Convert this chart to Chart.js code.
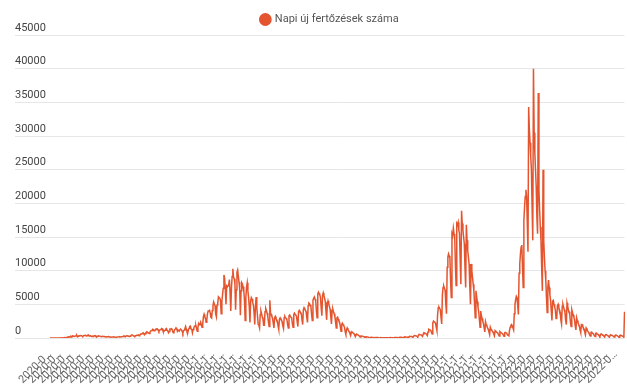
<!DOCTYPE html>
<html lang="hu">
<head>
<meta charset="utf-8">
<script src="https://cdn.jsdelivr.net/npm/chart.js@4/dist/chart.umd.min.js"></script>
<style>
  html, body { margin: 0; padding: 0; background: #fff; }
  #wrap { width: 627px; height: 385px; }
</style>
</head>
<body>
<div id="wrap"><canvas id="chart"></canvas></div>
<script>
const seriesLabel = 'Napi új fertőzések száma';
const startDate = '2020-02-26';
const lineColor = '#e4552f';

// daily values, 2020-02-26 .. 2020-12-31
const cases2020 = [
  1,0,2,0,0,0,0, 1,0,2,2,0,1,6, 7,12,20,11,19,38,18, 62,31,31,59,66,143,186,
  144,123,263,217,180,308,291, 249,267,293,312,384,193,304, 283,346,375,352,324,279,237,
  332,354,372,394,289,329,434, 459,312,310,356,242,226,269, 226,299,343,355,227,142,274,
  273,323,291,268,240,190,220, 230,213,210,183,196,154,160, 173,168,191,148,141,132,123,
  135,136,156,142,122,119,114, 133,140,172,218,165,170,186, 193,210,238,290,255,178,307,
  320,330,301,258,267,270,322, 462,460,423,300,312,258,345, 381,417,421,450,342,412,555,
  586,614,698,777,611,509,617, 777,889,767,811,737,663,857, 1030,1112,1119,1284,1254,1081,1151,
  1182,1356,1295,1345,1148,990,1179, 1215,1247,1415,1378,1054,927,1094, 1152,1330,1409,1145,1061,778,969,
  1309,1280,1405,1378,1040,777,955, 1233,1328,1504,1383,995,1189,1082, 1059,1274,1278,1185,987,712,1055,
  1184,1392,1713,1311,913,727,1186, 1432,1713,1767,1333,1259,757,1275, 1475,1767,1752,1834,1414,1011,1591,
  2158,1958,2027,2343,1976,1591,2070, 3130,3517,3186,2919,2321,2712,3617, 4016,4038,4123,3697,3071,2958,4074,
  4848,5343,5028,4785,3551,3142,4900, 5257,6115,5982,5943,5534,3600,5464, 6481,7385,9364,8851,7174,5000,7733,
  7591,7777,7947,8679,6640,4000,7487, 9134,10269,9049,8806,8162,4200,7169, 9800,10100,9200,8300,7300,3400,7000,
  8200,8000,7600,7000,5600,2600,6000, 7500,8200,7000,6000,4700,2300,5500, 6000,5800,5300,4900,3800,2000,4600,
  6100,4500,3300,2000,1900,1500,3500, 4000,3600
];

// daily values, 2021-01-01 .. 2021-12-31
const cases2021 = [
  3100,2800,1900,1900,3900,
  4400,4100,3700,3200,2400,1700,5600, 3800,3500,3200,2900,2200,1500,3000, 3200,2900,2700,2500,1800,1300,2800,
  3000,2800,2700,2400,1800,1400,3000, 3200,3000,2900,2700,2000,1500,3300, 3400,3200,3100,2900,2100,1600,3500,
  3700,3500,3400,3200,2400,1700,3900, 4100,3900,3800,3600,2700,2000,4200, 4500,4300,4100,3900,3000,2300,4800,
  5200,5100,4900,4700,3500,2600,5600, 5900,6100,5800,5500,4100,3000,6500, 6800,6600,6400,6000,4500,3300,6300,
  6700,6300,5900,5400,4000,2700,5000, 5500,5100,4700,4300,3200,2100,4000, 4300,3900,3600,3200,2400,1500,3000,
  3100,2800,2500,2300,1700,1000,2000, 2200,2000,1800,1600,1000,550,1200, 1500,1300,1100,950,650,380,800,
  900,800,720,630,400,250,500, 560,500,440,390,260,150,300, 306,275,237,215,155,72,155,
  180,165,140,130,85,47,92, 108,98,92,84,53,29,63, 74,70,61,58,38,20,48,
  58,55,49,44,31,19,43, 55,51,48,45,30,21,47, 63,57,55,50,35,24,59,
  77,74,72,68,48,35,83, 109,103,101,95,70,52,121, 163,156,150,148,104,76,178,
  245,236,225,213,156,112,265, 362,345,330,314,229,163,398, 532,510,483,461,335,238,583,
  773,746,708,674,487,347,875, 1300,1250,1200,1150,850,600,2200, 2500,2400,2300,2200,1600,1100,3500,
  4500,4600,4400,4200,3100,2100,6400, 7500,7700,7400,7100,5100,3600,10500, 12000,12500,12200,11800,8500,6000,15500,
  15200,16300,15500,15000,11000,7800,17000, 16800,17200,16000,15500,11500,8000,18900, 17000,16000,15000,14000,10500,7500,16800,
  14500,13000,12000,11000,7800,5000,11000, 10000,9000,8000,7000,5000,3000,7000, 6200,5400,4600,3900,2800,1600,4000,
  3300,2900,2500,2100,1500,900,2400, 2000,1750,1500,1300,900,500,1600, 1300,1150,1000,900,600,350,1100,
  1000,900,800,700,500,280,950, 850,780,700,620,440,250,800, 850,780,700,450,380,320,1100,
  1600,1900,2000
];

// daily values, 2022-01-01 .. 2022-06-14
const cases2022 = [
  1800,1500,1200,3600,
  5000,5700,6200,6000,4800,3500,9600, 11000,12500,13500,13800,10500,7500,17500, 19500,21000,22000,21000,17000,12800,34300,
  31000,29000,27000,25000,19500,14500,40000, 30500,27500,25000,22500,18000,15500,36400, 22000,19000,16500,14500,10500,7000,25000,
  14500,12000,10000,8600,6000,3800,7600, 8600,7500,6400,5600,4000,2600,5500, 5600,5000,4600,4100,2900,3000,4800,
  5000,4500,4200,3800,2700,2100,4700, 5000,4600,4200,3800,2600,2000,5200, 4700,4200,3900,3500,2400,1700,4200,
  3800,3400,3100,2700,1800,1200,3000, 2600,2300,2000,1800,1200,800,2000, 2000,1700,1500,1300,850,560,1500,
  1352,1065,897,740,470,285,850, 880,750,650,520,330,210,690, 720,620,560,470,300,190,560,
  600,510,470,400,250,160,470, 520,450,400,340,215,140,420, 470,420,370,320,200,130,390,
  440,400,350,300,190,120,360, 420,380,340,290,180,110,3900
];

const yTicks = [0, 5000, 10000, 15000, 20000, 25000, 30000, 35000, 40000, 45000];
const tickEvery = 14;

const values = cases2020.concat(cases2021, cases2022);
const days = [];
const d0 = new Date(startDate + 'T00:00:00Z');
for (let i = 0; i < values.length; i++) {
  days.push(new Date(d0.getTime() + i * 86400000).toISOString().slice(0, 10));
}

function shortLabel(s) {
  return s.slice(0, 6) + '…';
}

// nudge the legend a little to the right, like the original
const legendShift = {
  id: 'legendShift',
  afterLayout(chart) {
    chart.legend.left += 10;
    chart.legend.right += 10;
  }
};

const ctx = document.getElementById('chart').getContext('2d');
new Chart(ctx, {
  type: 'line',
  data: {
    labels: days,
    datasets: [
      {
        label: seriesLabel,
        data: values,
        borderColor: lineColor,
        backgroundColor: lineColor,
        borderWidth: 1.5,
        pointRadius: 0,
        tension: 0,
        fill: false
      }
    ]
  },
  options: {
    responsive: true,
    maintainAspectRatio: false,
    animation: false,
    layout: { padding: { left: 15, right: 2, top: 4, bottom: 0 } },
    plugins: {
      legend: {
        position: 'top',
        labels: {
          usePointStyle: true,
          pointStyle: 'circle',
          boxWidth: 8,
          boxHeight: 8,
          color: '#555',
          padding: 10,
          font: { family: 'Roboto', size: 11 }
        }
      },
      tooltip: { enabled: false }
    },
    scales: {
      x: {
        grid: { display: false },
        border: { display: false },
        ticks: {
          autoSkip: false,
          minRotation: 45,
          maxRotation: 45,
          padding: 2,
          color: '#666',
          font: { family: 'Roboto', size: 11 },
          callback: (val, i) => (i % tickEvery === 0 ? shortLabel(days[i]) : null)
        },
        afterFit: (s) => { s.height = 47; }
      },
      y: {
        min: 0,
        max: 45000,
        afterBuildTicks: (s) => { s.ticks = yTicks.map((v) => ({ value: v })); },
        ticks: {
          crossAlign: 'far',
          labelOffset: -7,
          color: '#444',
          font: { family: 'Roboto', size: 11 },
          callback: (v) => String(v)
        },
        grid: { color: '#e6e6e6', tickLength: 35 },
        border: { display: false },
        afterFit: (s) => { s.width = 35; }
      }
    }
  },
  plugins: [legendShift]
});
</script>
</body>
</html>
